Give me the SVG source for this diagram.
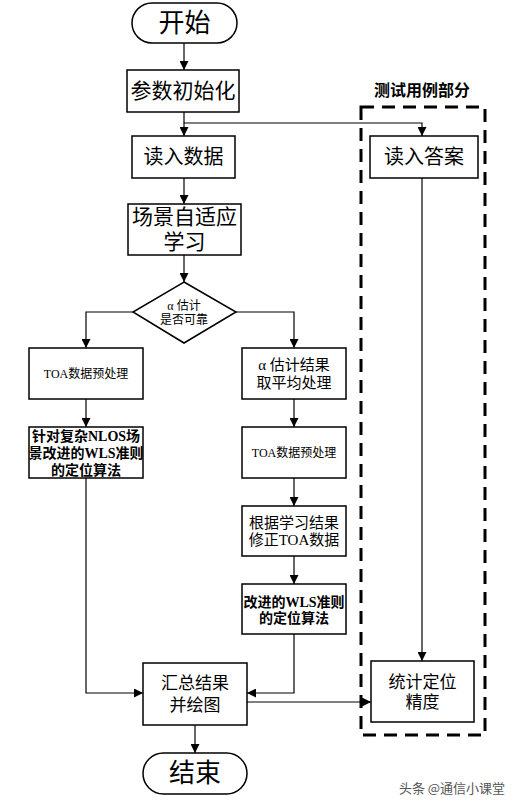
<svg xmlns="http://www.w3.org/2000/svg" width="518" height="806" viewBox="0 0 518 806">
<defs>
<marker id="ah" viewBox="0 0 10 10" refX="10" refY="5" markerWidth="9" markerHeight="9" markerUnits="userSpaceOnUse" orient="auto"><path d="M0,0 L10,5 L0,10 z" fill="#000"/></marker>
<style>
.box{fill:#fff;stroke:#000;stroke-width:1.5}
.ln{fill:none;stroke:#000;stroke-width:1.2;marker-end:url(#ah)}
text{font-family:"Liberation Serif","Noto Sans CJK SC",serif;fill:#000;text-anchor:middle;dominant-baseline:central}
.b{font-weight:bold}
</style>
</defs>
<rect width="518" height="806" fill="#fff"/>
<g id="testgroup">
<rect x="361" y="107" width="124" height="628" fill="none" stroke="#000" stroke-width="3" stroke-dasharray="13,8"/>
<text x="422" y="90" font-size="16" class="b">测试用例部分</text>
</g>
<g id="connectors">
<path class="ln" d="M184,43 V70"/>
<path class="ln" d="M184,112 V136"/>
<path class="ln" d="M184,123 H422 V136"/>
<path class="ln" d="M184,178 V204"/>
<path class="ln" d="M184,255 V282"/>
<path class="ln" d="M133,312 H86 V348"/>
<path class="ln" d="M236,312 H294 V348"/>
<path class="ln" d="M86,399 V427"/>
<path class="ln" d="M294,399 V427"/>
<path class="ln" d="M294,478 V506"/>
<path class="ln" d="M294,556 V584"/>
<path class="ln" d="M86,478 V693 H143"/>
<path class="ln" d="M294,634 V693 H247"/>
<path class="ln" d="M247,702 H371"/>
<path class="ln" d="M422,178 V661"/>
<path class="ln" d="M195,725 V753"/>
</g>
<g id="start">
<rect x="132" y="3" width="105" height="40" rx="20" class="box"/>
<text x="184.5" y="23" font-size="26">开始</text>
</g>
<g id="init">
<rect x="127" y="70" width="112" height="42" class="box"/>
<text x="183" y="91" font-size="21">参数初始化</text>
</g>
<g id="readdata">
<rect x="132" y="136" width="103" height="42" class="box"/>
<text x="183.5" y="157" font-size="20">读入数据</text>
</g>
<g id="readans">
<rect x="370" y="136" width="108" height="42" class="box"/>
<text x="424" y="157" font-size="20">读入答案</text>
</g>
<g id="learn">
<rect x="128" y="204" width="113" height="51" class="box"/>
<text x="184.5" y="217" font-size="21">场景自适应</text>
<text x="184.5" y="242" font-size="21">学习</text>
</g>
<g id="decision">
<polygon points="184,282 236,312 184,343 133,312" class="box"/>
<text x="184" y="306" font-size="12">α 估计</text>
<text x="184" y="320" font-size="12">是否可靠</text>
</g>
<g id="toa1">
<rect x="29" y="348" width="114" height="51" class="box"/>
<text x="86" y="374" font-size="12">TOA数据预处理</text>
</g>
<g id="avg">
<rect x="242" y="348" width="104" height="51" class="box"/>
<text x="294" y="365" font-size="15">α 估计结果</text>
<text x="294" y="383" font-size="15">取平均处理</text>
</g>
<g id="nlos">
<rect x="29" y="427" width="114" height="51" class="box"/>
<text x="86" y="436" font-size="14" class="b">针对复杂NLOS场</text>
<text x="86" y="453" font-size="14" class="b">景改进的WLS准则</text>
<text x="86" y="470" font-size="14" class="b">的定位算法</text>
</g>
<g id="toa2">
<rect x="242" y="427" width="104" height="51" class="box"/>
<text x="294" y="453" font-size="12">TOA数据预处理</text>
</g>
<g id="correct">
<rect x="242" y="506" width="104" height="50" class="box"/>
<text x="294" y="523" font-size="15">根据学习结果</text>
<text x="294" y="540" font-size="15">修正TOA数据</text>
</g>
<g id="wls">
<rect x="242" y="584" width="104" height="50" class="box"/>
<text x="294" y="602" font-size="14" class="b">改进的WLS准则</text>
<text x="294" y="618" font-size="14" class="b">的定位算法</text>
</g>
<g id="summary">
<rect x="143" y="663" width="104" height="62" class="box"/>
<text x="195" y="683" font-size="17">汇总结果</text>
<text x="195" y="705" font-size="17">并绘图</text>
</g>
<g id="stats">
<rect x="371" y="661" width="103" height="61" class="box"/>
<text x="422.5" y="682" font-size="17">统计定位</text>
<text x="422.5" y="702" font-size="17">精度</text>
</g>
<g id="end">
<rect x="143" y="753" width="104" height="41" rx="20.5" class="box"/>
<text x="195" y="773.5" font-size="26">结束</text>
</g>
<text x="452" y="787" font-size="13" style="fill:#555;font-family:'Noto Sans CJK SC',sans-serif">头条 @通信小课堂</text>
</svg>
